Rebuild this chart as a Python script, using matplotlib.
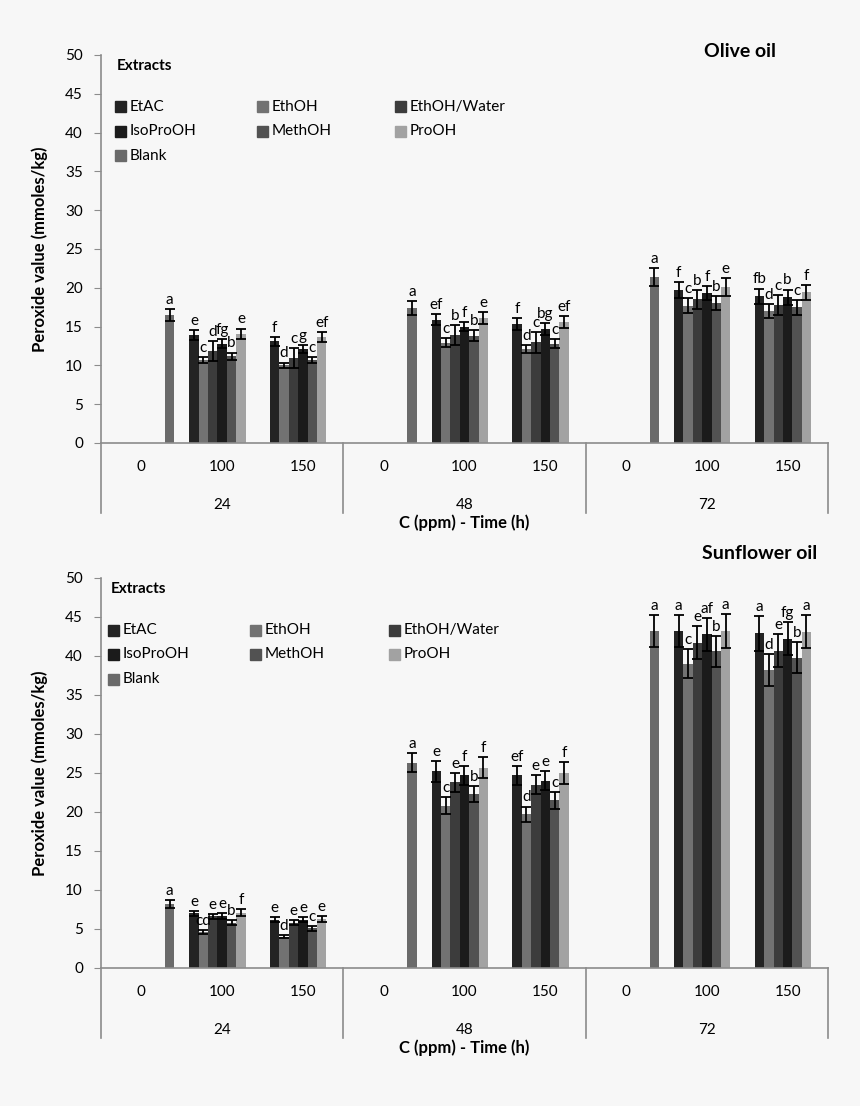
#!/usr/bin/env python3
# -*- encoding utf-8 -*-
"""
Peroxide value of olive and sunflower oil with plant extracts
(grouped bars, 7 series, two-level category axis)
"""

# %% Load libraries
import numpy as np
import matplotlib.pyplot as plt
from matplotlib.patches import Rectangle

# %% Setup
plt.rcParams['font.family'] = ['Lato', 'DejaVu Sans']
bg = '#f7f7f7'
axis_grey = '#8c8c8c'

# %% Data
nan = np.nan

# categories: concentration (ppm) nested in time (h)
conc_labels = ['0', '100', '150', '0', '100', '150', '0', '100', '150']
time_labels = ['24', '48', '72']

series_names = ['EtAC', 'EthOH', 'EthOH/Water', 'IsoProOH', 'MethOH',
                'ProOH', 'Blank']
series_colors = ['#232323', '#727272', '#3c3c3c', '#1b1b1b', '#525252',
                 '#a2a2a2', '#6a6a6a']

# --+ olive oil
olive_etac = [nan, 13.9, 13.1, nan, 15.9, 15.3, nan, 19.7, 18.9]
olive_ethoh = [nan, 10.7, 10.0, nan, 12.9, 12.1, nan, 17.7, 17.0]
olive_ethoh_water = [nan, 11.8, 10.9, nan, 13.9, 13.0, nan, 18.5, 17.8]
olive_isoproh = [nan, 12.8, 12.1, nan, 15.0, 14.7, nan, 19.3, 18.8]
olive_methoh = [nan, 11.2, 10.7, nan, 13.8, 12.8, nan, 18.0, 17.5]
olive_proh = [nan, 14.1, 13.6, nan, 16.1, 15.6, nan, 20.1, 19.4]
olive_blank = [16.5, nan, nan, 17.4, nan, nan, 21.4, nan, nan]

olive_etac_err = [0, 0.60, 0.56, 0, 0.75, 0.75, 0, 1.00, 1.00]
olive_ethoh_err = [0, 0.43, 0.36, 0, 0.58, 0.54, 0, 0.97, 0.86]
olive_ethoh_water_err = [0, 1.29, 1.29, 0, 1.29, 1.35, 0, 1.24, 1.29]
olive_isoproh_err = [0, 0.54, 0.54, 0, 0.60, 0.75, 0, 0.94, 0.97]
olive_methoh_err = [0, 0.45, 0.43, 0, 0.71, 0.60, 0, 0.90, 0.97]
olive_proh_err = [0, 0.64, 0.64, 0, 0.82, 0.79, 0, 1.14, 1.00]
olive_blank_err = [0.77, 0, 0, 0.92, 0, 0, 1.14, 0, 0]

olive_etac_let = ['', 'e', 'f', '', 'ef', 'f', '', 'f', 'fb']
olive_ethoh_let = ['', 'c', 'd', '', 'c', 'd', '', 'c', 'd']
olive_ethoh_water_let = ['', 'd', 'c', '', 'b', 'c', '', 'b', 'c']
olive_isoproh_let = ['', 'fg', 'g', '', 'f', 'bg', '', 'f', 'b']
olive_methoh_let = ['', 'b', 'c', '', 'b', 'c', '', 'b', 'c']
olive_proh_let = ['', 'e', 'ef', '', 'e', 'ef', '', 'e', 'f']
olive_blank_let = ['a', '', '', 'a', '', '', 'a', '', '']

# --+ sunflower oil
sun_etac = [nan, 7.0, 6.2, nan, 25.2, 24.7, nan, 43.2, 42.9]
sun_ethoh = [nan, 4.6, 4.0, nan, 20.8, 19.7, nan, 39.0, 38.2]
sun_ethoh_water = [nan, 6.6, 5.8, nan, 23.8, 23.5, nan, 41.7, 40.7]
sun_isoproh = [nan, 6.7, 6.2, nan, 24.7, 24.0, nan, 42.8, 42.2]
sun_methoh = [nan, 5.8, 5.1, nan, 22.3, 21.5, nan, 40.6, 39.8]
sun_proh = [nan, 7.1, 6.3, nan, 25.7, 25.0, nan, 43.2, 43.1]
sun_blank = [8.2, nan, nan, 26.3, nan, nan, 43.2, nan, nan]

sun_etac_err = [0, 0.34, 0.30, 0, 1.30, 1.20, 0, 2.10, 2.20]
sun_ethoh_err = [0, 0.26, 0.21, 0, 1.07, 1.00, 0, 1.86, 2.00]
sun_ethoh_water_err = [0, 0.34, 0.32, 0, 1.20, 1.20, 0, 2.10, 2.10]
sun_isoproh_err = [0, 0.36, 0.32, 0, 1.20, 1.20, 0, 2.10, 2.10]
sun_methoh_err = [0, 0.34, 0.30, 0, 1.07, 1.07, 0, 2.00, 2.00]
sun_proh_err = [0, 0.43, 0.36, 0, 1.30, 1.37, 0, 2.20, 2.10]
sun_blank_err = [0.49, 0, 0, 1.20, 0, 0, 2.10, 0, 0]

sun_etac_let = ['', 'e', 'e', '', 'e', 'ef', '', 'a', 'a']
sun_ethoh_let = ['', 'cd', 'd', '', 'c', 'd', '', 'c', 'd']
sun_ethoh_water_let = ['', 'e', 'e', '', 'e', 'e', '', 'e', 'e']
sun_isoproh_let = ['', 'e', 'e', '', 'f', 'e', '', 'af', 'fg']
sun_methoh_let = ['', 'b', 'c', '', 'b', 'c', '', 'b', 'b']
sun_proh_let = ['', 'f', 'e', '', 'f', 'f', '', 'a', 'a']
sun_blank_let = ['a', '', '', 'a', '', '', 'a', '', '']

olive = [olive_etac, olive_ethoh, olive_ethoh_water, olive_isoproh,
         olive_methoh, olive_proh, olive_blank]
olive_err = [olive_etac_err, olive_ethoh_err, olive_ethoh_water_err,
             olive_isoproh_err, olive_methoh_err, olive_proh_err,
             olive_blank_err]
olive_let = [olive_etac_let, olive_ethoh_let, olive_ethoh_water_let,
             olive_isoproh_let, olive_methoh_let, olive_proh_let,
             olive_blank_let]
sun = [sun_etac, sun_ethoh, sun_ethoh_water, sun_isoproh, sun_methoh,
       sun_proh, sun_blank]
sun_err = [sun_etac_err, sun_ethoh_err, sun_ethoh_water_err,
           sun_isoproh_err, sun_methoh_err, sun_proh_err, sun_blank_err]
sun_let = [sun_etac_let, sun_ethoh_let, sun_ethoh_water_let,
           sun_isoproh_let, sun_methoh_let, sun_proh_let, sun_blank_let]


# %% Panel drawing
def draw_panel(ax, values, errors, letters, title, title_xy, leg_dx):
    ax.set_facecolor(bg)
    x = np.arange(len(conc_labels))
    w = 0.1163
    for i, (vals, errs, lets) in enumerate(zip(values, errors, letters)):
        xi = x + (i - 3) * w
        vals = np.array(vals, dtype=float)
        errs = np.array(errs, dtype=float)
        ok = ~np.isnan(vals)
        ax.bar(xi[ok], vals[ok], width=w, color=series_colors[i],
               edgecolor='none', zorder=2)
        ax.errorbar(xi[ok], vals[ok], yerr=errs[ok], fmt='none',
                    ecolor='black', elinewidth=1.3, capsize=3.6,
                    capthick=1.3, zorder=3)
        for xx, v, e, t in zip(xi[ok], vals[ok], errs[ok],
                               np.array(lets)[ok]):
            ax.annotate(t, (xx, v + e), xytext=(0, 1.5),
                        textcoords='offset points', ha='center',
                        va='bottom', fontsize=11, zorder=4)

    # --+ axes
    ax.set_xlim(-0.5, len(conc_labels) - 0.5)
    ax.set_ylim(0, 50)
    ax.set_yticks(np.arange(0, 51, 5))
    ax.tick_params(axis='y', direction='out', length=5, color=axis_grey,
                   labelsize=11, pad=8)
    ax.set_xticks([])
    for s in ['top', 'right']:
        ax.spines[s].set_visible(False)
    for s in ['left', 'bottom']:
        ax.spines[s].set_color(axis_grey)
        ax.spines[s].set_linewidth(1.2)
    ax.set_ylabel('Peroxide value (mmoles/kg)', fontsize=12,
                  fontweight='bold', labelpad=12)

    # --+ two-level category axis
    tr = ax.get_xaxis_transform()
    for xx, lab in zip(x, conc_labels):
        ax.text(xx, -0.062, lab, transform=tr, ha='center', va='center',
                fontsize=11)
    for k, lab in enumerate(time_labels):
        ax.text(3 * k + 1, -0.16, lab, transform=tr, ha='center',
                va='center', fontsize=11)
    for xb in [-0.5, 2.5, 5.5, 8.5]:
        ax.plot([xb, xb], [0, -0.18], transform=tr, color=axis_grey,
                lw=1.2, clip_on=False)
    ax.text(4, -0.205, 'C (ppm) - Time (h)', transform=tr, ha='center',
            va='center', fontsize=12, fontweight='bold')

    # --+ title
    ax.text(title_xy[0], title_xy[1], title, transform=ax.transAxes,
            ha='center', va='center', fontsize=14, fontweight='bold')

    # --+ legend (row-wise, 3 columns)
    ax.text(leg_dx + 0.003, 0.971, 'Extracts', transform=ax.transAxes,
            ha='left', va='center', fontsize=11, fontweight='bold')
    col_x = [leg_dx, leg_dx + 0.195, leg_dx + 0.386]
    row_y = [0.866, 0.804, 0.740]
    sq_w, sq_h = 11 / 727, 11 / 388
    for i, name in enumerate(series_names):
        cx, ry = col_x[i % 3], row_y[i // 3]
        ax.add_patch(Rectangle((cx, ry - sq_h / 2), sq_w, sq_h,
                               transform=ax.transAxes,
                               color=series_colors[i], clip_on=False))
        ax.text(cx + sq_w + 0.005, ry, name, transform=ax.transAxes,
                ha='left', va='center', fontsize=11)


# %% Figure
fig = plt.figure(figsize=(8.6, 11.06), dpi=100, facecolor=bg)
ax0 = fig.add_axes([0.1174, 0.5995, 0.8454, 0.3508])
ax1 = fig.add_axes([0.1174, 0.1248, 0.8454, 0.3526])

draw_panel(ax0, olive, olive_err, olive_let, 'Olive oil',
           (0.879, 1.008), 0.019)
draw_panel(ax1, sun, sun_err, sun_let, 'Sunflower oil',
           (0.906, 1.064), 0.010)

fig.savefig('out.png', dpi=100, facecolor=bg)
